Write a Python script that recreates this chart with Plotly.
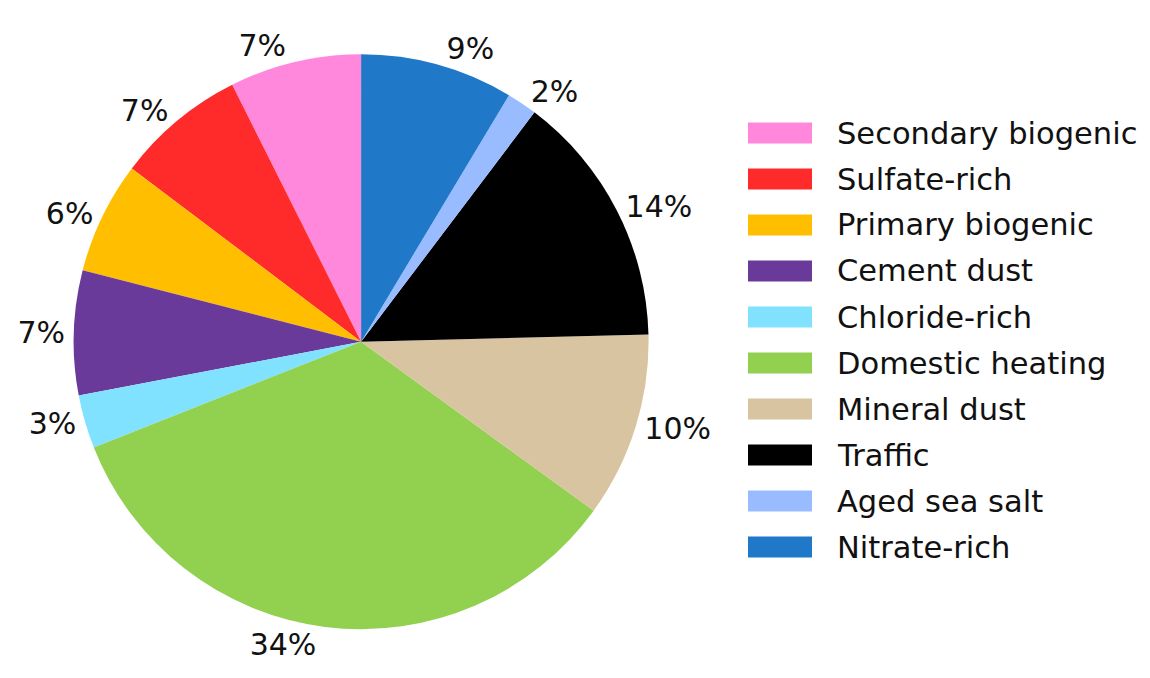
import plotly.graph_objects as go

# Source apportionment shares (%), listed in legend order
sources = [
    "Secondary biogenic", "Sulfate-rich", "Primary biogenic", "Cement dust",
    "Chloride-rich", "Domestic heating", "Mineral dust", "Traffic",
    "Aged sea salt", "Nitrate-rich",
]
shares = [7.4, 7.3, 6.3, 7.0, 3.0, 34.0, 10.4, 14.3, 1.7, 8.6]
colors = [
    "#FF88DD", "#FF2A2A", "#FFBF00", "#6A3A9A", "#80E2FF",
    "#92D050", "#D8C4A0", "#000000", "#99BBFF", "#1F78C8",
]

FONT = "DejaVu Sans"

# Counterclockwise pies in plotly end the first slice at `rotation`;
# shift so the first slice starts at 12 o'clock instead.
start_shift = -360.0 * shares[0] / sum(shares)

fig = go.Figure(
    go.Pie(
        labels=sources,
        values=shares,
        sort=False,
        direction="counterclockwise",
        rotation=start_shift,
        marker=dict(colors=colors, line=dict(width=0)),
        textinfo="percent",
        texttemplate="%{percent:.0%}",
        textposition="outside",
        outsidetextfont=dict(family=FONT, size=30, color="#111111"),
        showlegend=False,
        hoverinfo="label+percent",
        domain=dict(x=[0.062, 0.566], y=[0.072, 0.920]),
    )
)

# Legend drawn as swatches plus labels
shapes = []
annotations = []
top_px, step_px, H = 133, 46.0, 678
W = 1150
for i, (name, col) in enumerate(zip(sources, colors)):
    yc = top_px + i * step_px
    shapes.append(dict(
        type="rect", xref="paper", yref="paper",
        x0=748 / W, x1=812 / W,
        y0=1 - (yc + 10.5) / H, y1=1 - (yc - 10.5) / H,
        fillcolor=col, line=dict(width=0),
    ))
    annotations.append(dict(
        xref="paper", yref="paper", x=835 / W, y=1 - yc / H,
        xanchor="left", yanchor="middle", text=name, showarrow=False,
        font=dict(family=FONT, size=30.5, color="#111111"),
    ))

fig.update_layout(
    width=1150, height=678,
    margin=dict(l=0, r=0, t=0, b=0),
    paper_bgcolor="white", plot_bgcolor="white",
    shapes=shapes, annotations=annotations,
)

fig.write_html("out.html")
